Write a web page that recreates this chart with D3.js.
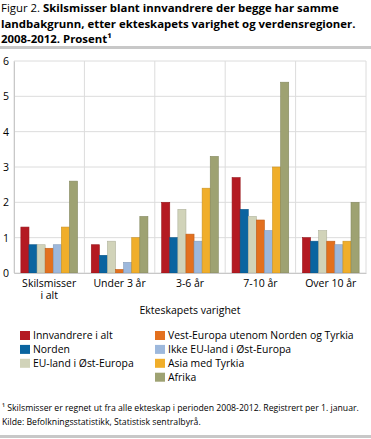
<!DOCTYPE html>
<html>
<head>
<meta charset="utf-8">
<script src="https://cdn.jsdelivr.net/npm/d3@7"></script>
<style>
body { margin: 0; background: #fff; }
svg text { font-family: "Open Sans", sans-serif; fill: #000; }
.title { font-size: 11.4px; font-weight: bold; }
.tick text { font-size: 10.5px; }
</style>
</head>
<body>
<svg width="371" height="439"></svg>
<script>
var categories = ["Skilsmisser i alt", "Under 3 år", "3-6 år", "7-10 år", "Over 10 år"];
var seriesNames = ["Innvandrere i alt", "Norden", "EU-land i Øst-Europa", "Vest-Europa utenom Norden og Tyrkia",
  "Ikke EU-land i Øst-Europa", "Asia med Tyrkia", "Afrika"];
var innvandrere = [1.3, 0.8, 2.0, 2.7, 1.0];
var norden = [0.8, 0.5, 1.0, 1.8, 0.9];
var euOst = [0.8, 0.9, 1.8, 1.6, 1.2];
var vestEuropa = [0.7, 0.1, 1.1, 1.5, 0.9];
var ikkeEuOst = [0.8, 0.3, 0.9, 1.2, 0.8];
var asia = [1.3, 1.0, 2.4, 3.0, 0.9];
var afrika = [2.6, 1.6, 3.3, 5.4, 2.0];
var yTicks = [0, 1, 2, 3, 4, 5, 6];

var colors = ["#b41a22", "#0a64a0", "#d1d3b9", "#e3701e", "#9db8dc", "#f0ae2a", "#9ea272"];
var allSeries = [innvandrere, norden, euOst, vestEuropa, ikkeEuOst, asia, afrika];

var svg = d3.select("svg");

// title
var title = svg.append("text").attr("class", "title");
var l1 = title.append("tspan").attr("x", 1).attr("y", 12);
l1.append("tspan").style("font-weight", "normal").text("Figur 2. ");
l1.append("tspan").text("Skilsmisser blant innvandrere der begge har samme");
title.append("tspan").attr("x", 1).attr("y", 28).text("landbakgrunn, etter ekteskapets varighet og verdensregioner.");
title.append("tspan").attr("x", 1).attr("y", 43).text("2008-2012. Prosent¹");

svg.append("rect").attr("x", 0).attr("y", 46).attr("width", 371).attr("height", 3).attr("fill", "#c8c8c8");

var x = d3.scaleBand().domain(categories).range([14, 366]);
var y = d3.scaleLinear().domain([0, 6]).range([273, 61]);
var inner = d3.scaleBand().domain(d3.range(7)).range([0, x.bandwidth()]).paddingOuter(0.85);

var g = svg.append("g");

// grid
g.selectAll(".hgrid").data(yTicks).enter().append("line")
  .attr("x1", 14).attr("x2", 366)
  .attr("y1", d => y(d)).attr("y2", d => y(d))
  .attr("stroke", "#dcdcdc").attr("stroke-width", 1);
g.selectAll(".vgrid").data(categories.concat(["end"])).enter().append("line")
  .attr("x1", (d, i) => i < categories.length ? x(d) : 366)
  .attr("x2", (d, i) => i < categories.length ? x(d) : 366)
  .attr("y1", y(6)).attr("y2", y(0))
  .attr("stroke", "#dcdcdc").attr("stroke-width", 1);

// bars
var groups = g.selectAll(".grp").data(categories).enter().append("g")
  .attr("transform", d => "translate(" + x(d) + ",0)");
groups.selectAll("rect").data((c, ci) => allSeries.map((s, si) => ({ si: si, v: s[ci] })))
  .enter().append("rect")
  .attr("x", d => inner(d.si))
  .attr("y", d => y(d.v))
  .attr("width", inner.bandwidth())
  .attr("height", d => y(0) - y(d.v))
  .attr("fill", d => colors[d.si])
  .attr("stroke", d => d3.color(colors[d.si]).darker(0.5))
  .attr("stroke-width", 0.6);

// axes
var yAxis = g.append("g").attr("transform", "translate(14,0)")
  .call(d3.axisLeft(y).tickValues(yTicks).tickSize(0).tickPadding(5).tickFormat(d3.format("d")));
yAxis.select(".domain").attr("stroke", "#c8c8c8");
yAxis.selectAll("text").attr("text-anchor", "start").attr("x", -11);

var xAxis = g.append("g").attr("transform", "translate(0,273)")
  .call(d3.axisBottom(x).tickSize(0).tickPadding(8)
    .tickFormat(d => d === "Skilsmisser i alt" ? "Skilsmisser" : d));
xAxis.select(".domain").attr("stroke", "#c8c8c8");
xAxis.selectAll(".tick text").attr("y", 14).attr("dy", null);
// second line of the first label
xAxis.selectAll(".tick").filter(d => d === "Skilsmisser i alt").append("text")
  .attr("y", 26).attr("fill", "#000").text("i alt");

svg.append("text").attr("x", 190).attr("y", 314).attr("text-anchor", "middle")
  .style("font-size", "10.5px").text("Ekteskapets varighet");

// legend
var legendPos = [[20, 0], [20, 1], [20, 2], [155, 0], [155, 1], [155, 2], [155, 3]];
var leg = svg.selectAll(".leg").data(seriesNames).enter().append("g")
  .attr("transform", (d, i) => "translate(" + legendPos[i][0] + "," + (339 + legendPos[i][1] * 13.9) + ")");
leg.append("rect").attr("x", 0).attr("y", -8).attr("width", 10).attr("height", 9)
  .attr("fill", (d, i) => colors[i]);
leg.append("text").attr("x", 13).attr("y", 0).style("font-size", "10.4px").text(d => d);

// footnote
svg.append("text").attr("x", 2).attr("y", 411).style("font-size", "8.7px")
  .text("¹ Skilsmisser er regnet ut fra alle ekteskap i perioden 2008-2012. Registrert per 1. januar.");
svg.append("text").attr("x", 2).attr("y", 425).style("font-size", "8.7px")
  .text("Kilde: Befolkningsstatistikk, Statistisk sentralbyrå.");
svg.append("rect").attr("x", 0).attr("y", 435).attr("width", 371).attr("height", 3).attr("fill", "#c8c8c8");
</script>
</body>
</html>
